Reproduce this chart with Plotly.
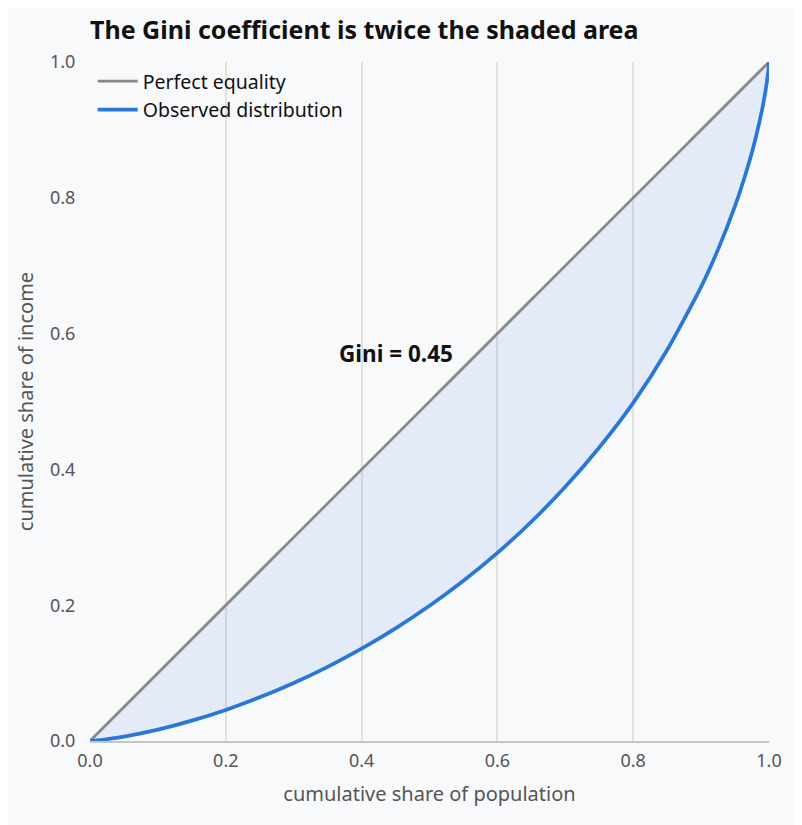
import plotly.graph_objects as go

BLUE = "#2a78d6"
GRAY = "#8a8885"
BG = "#f8f9fb"
GRID = "#e2e1dc"
INK_MUTED = "#555555"

# cumulative share of population / income
population = [0.0, 0.01, 0.03, 0.05, 0.1, 0.15, 0.2, 0.25, 0.3, 0.35, 0.4, 0.45, 0.5,
              0.55, 0.6, 0.65, 0.7, 0.75, 0.8, 0.85, 0.9, 0.925, 0.95, 0.97, 0.98,
              0.99, 0.995, 0.999, 1.0]
income = [0.0, 0.0008, 0.0035, 0.0064, 0.0167, 0.030, 0.0458, 0.0643, 0.0854, 0.1093,
          0.136, 0.1659, 0.1991, 0.236, 0.277, 0.3229, 0.3743, 0.4323, 0.498, 0.5759,
          0.6688, 0.724, 0.788, 0.8499, 0.8867, 0.9307, 0.9583, 0.9876, 1.0]
equality = [0.0, 1.0]
gini = 0.45
ticks = [0, 0.2, 0.4, 0.6, 0.8, 1.0]

FONT = "Noto Sans, Open Sans, sans-serif"
CURVE = dict(shape="spline", smoothing=0.6)

fig = go.Figure()
fig.add_trace(go.Scatter(
    x=equality, y=equality, mode="lines", name="Perfect equality",
    line=dict(color=GRAY, width=2.7),
))
# ponytail: 填色獨立成一條不進 legend 的 trace，legend 圖示才不會多一塊淡藍底
fig.add_trace(go.Scatter(
    x=population, y=income, mode="lines", showlegend=False, hoverinfo="skip",
    line=dict(color="rgba(0,0,0,0)", width=0, **CURVE),
    fill="tonexty", fillcolor="rgba(42,120,214,0.10)",
))
fig.add_trace(go.Scatter(
    x=population, y=income, mode="lines", name="Observed distribution",
    line=dict(color=BLUE, width=3.7, **CURVE),
))
fig.add_annotation(
    x=0.45, y=0.57, text=f"<b>Gini = {gini:.2f}</b>", showarrow=False,
    font=dict(size=22.5, color="#111111", family=FONT),
)
# ponytail: 頁面 body 有 8px 邊距，邊界都往回扣 8px 對齊參考圖
fig.update_layout(
    width=802, height=825,
    paper_bgcolor=BG, plot_bgcolor=BG,
    font=dict(family=FONT, color=INK_MUTED, size=18),
    title=dict(text="<b>The Gini coefficient is twice the shaded area</b>",
               x=0, xref="paper", xanchor="left", y=0.973, yanchor="middle",
               font=dict(size=25, color="#111111")),
    margin=dict(l=82, r=41, t=54, b=92),
    legend=dict(x=0.004, y=1.0, xanchor="left", yanchor="top", traceorder="normal",
                itemwidth=40,
                bgcolor="rgba(0,0,0,0)", font=dict(size=19.5, color="#111111")),
)
fig.update_xaxes(
    range=[0, 1], tickvals=ticks, tickformat=".1f",
    ticks="outside", ticklen=2, tickcolor="rgba(0,0,0,0)",
    showgrid=True, gridcolor=GRID, gridwidth=1.5, zeroline=False,
    showline=True, linecolor="#c6c5bf", linewidth=2,
    title=dict(text="cumulative share of population", font=dict(size=20), standoff=16),
)
fig.update_yaxes(
    range=[0, 1], tickvals=ticks, tickformat=".1f",
    ticks="outside", ticklen=10, tickcolor="rgba(0,0,0,0)",
    showgrid=False, zeroline=False, showline=False,
    title=dict(text="cumulative share of income", font=dict(size=20), standoff=10),
)

fig.write_html("out.html")
